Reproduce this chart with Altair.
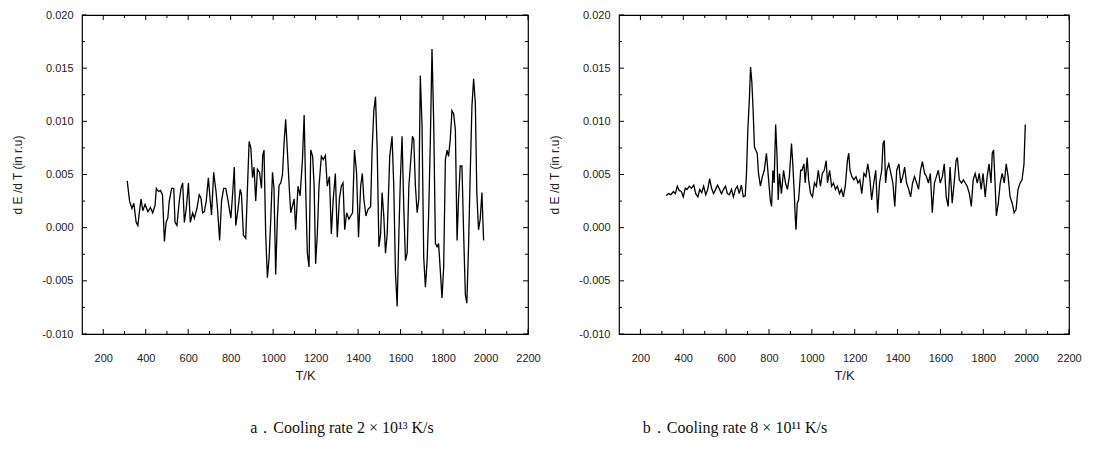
import altair as alt
import pandas as pd

# ---------------- data ----------------
T_a = [313, 324, 335, 344, 355, 363, 371, 378, 386, 397, 410, 422, 433, 444, 450, 460, 469, 479, 488, 496,
       504, 511, 522, 532, 538, 547, 558, 566, 574, 582, 591, 601, 610, 621, 629, 641, 652, 660, 668, 676,
       685, 695, 704, 710, 720, 731, 738, 748, 757, 767, 777, 788, 801, 810, 817, 824, 835, 845, 851, 860,
       871, 879, 887, 895, 903, 910, 918, 926, 936, 945, 951, 957, 965, 973, 981, 989, 997, 1004, 1012, 1020,
       1028, 1036, 1044, 1051, 1059, 1067, 1076, 1083, 1099, 1106, 1117, 1127, 1138, 1146, 1153, 1161, 1169, 1177, 1186, 1193,
       1200, 1208, 1216, 1227, 1236, 1246, 1255, 1265, 1274, 1283, 1293, 1302, 1312, 1321, 1329, 1337, 1346, 1357, 1365, 1374,
       1383, 1393, 1402, 1412, 1420, 1427, 1437, 1446, 1459, 1466, 1474, 1482, 1490, 1498, 1506, 1513, 1521, 1529, 1537, 1549,
       1560, 1568, 1576, 1584, 1592, 1599, 1607, 1615, 1623, 1631, 1639, 1646, 1656, 1662, 1670, 1678, 1686, 1693, 1701, 1709,
       1717, 1725, 1732, 1740, 1748, 1756, 1764, 1772, 1779, 1787, 1795, 1803, 1811, 1819, 1826, 1834, 1842, 1850, 1858, 1866,
       1873, 1881, 1889, 1897, 1905, 1912, 1920, 1928, 1936, 1944, 1952, 1959, 1967, 1975, 1983, 1991]
dEdT_a = [0.0044, 0.0025, 0.0018, 0.0023, 0.0005, 0.0002, 0.0016, 0.0027, 0.0016, 0.0022, 0.0015, 0.0019, 0.0014, 0.0021, 0.0037, 0.0034, 0.0035, 0.0031, -0.0013, 0.0005,
          0.0009, 0.0025, 0.0037, 0.0037, 0.0005, 0.0002, 0.0025, 0.0037, 0.0042, 0.0005, 0.0018, 0.0042, 0.0005, 0.0014, 0.0009, 0.0018, 0.0031, 0.0028, 0.0014, 0.0015,
          0.0025, 0.0047, 0.0025, 0.0012, 0.0052, 0.0034, 0.0018, -0.0012, 0.0025, 0.0037, 0.0037, 0.0025, 0.0009, 0.0034, 0.0057, 0.0002, 0.0018, 0.0036, 0.0031, -0.0007,
          -0.0010, 0.0037, 0.0081, 0.0075, 0.0047, 0.0057, 0.0025, 0.0055, 0.0052, 0.0037, 0.0068, 0.0073, -0.0007, -0.0047, -0.0028, 0.0009, 0.0052, 0.0037, -0.0044, 0.0009,
          0.0040, 0.0042, 0.0050, 0.0078, 0.0102, 0.0072, 0.0037, 0.0014, 0.0027, -0.0002, 0.0039, 0.0030, 0.0064, 0.0106, 0.0039, -0.0024, -0.0037, 0.0073, 0.0067, 0.0039,
          -0.0034, -0.0006, 0.0039, 0.0067, 0.0064, 0.0068, 0.0039, 0.0048, -0.0006, 0.0027, 0.0051, -0.0009, 0.0027, 0.0039, 0.0042, -0.0002, 0.0014, 0.0008, 0.0011, 0.0014,
          0.0073, 0.0051, -0.0009, 0.0039, 0.0051, 0.0027, 0.0011, 0.0017, 0.0020, 0.0073, 0.0110, 0.0123, 0.0073, -0.0018, -0.0006, 0.0033, 0.0011, -0.0024, -0.0006, 0.0067,
          0.0086, 0.0039, -0.0043, -0.0074, -0.0006, 0.0045, 0.0086, 0.0020, -0.0031, -0.0024, 0.0039, 0.0058, 0.0086, 0.0083, 0.0039, 0.0014, 0.0027, 0.0143, 0.0096, -0.0028,
          -0.0056, -0.0031, 0.0011, 0.0080, 0.0168, 0.0099, -0.0015, -0.0018, -0.0015, -0.0040, -0.0066, -0.0037, 0.0064, 0.0073, 0.0067, 0.0083, 0.0110, 0.0107, 0.0092, -0.0012,
          0.0027, 0.0058, 0.0058, -0.0006, -0.0063, -0.0071, -0.0018, 0.0051, 0.0114, 0.0140, 0.0117, 0.0033, -0.0002, 0.0008, 0.0033, -0.0012]

T_b = [320, 331, 342, 354, 363, 372, 381, 391, 400, 409, 418, 428, 438, 449, 458, 468, 477, 486, 495, 505,
       514, 523, 532, 541, 551, 560, 569, 578, 588, 597, 606, 615, 625, 634, 643, 652, 661, 671, 680, 689,
       695, 701, 708, 714, 720, 726, 732, 738, 745, 751, 760, 769, 778, 788, 797, 806, 812, 818, 824, 831,
       837, 843, 849, 858, 868, 877, 886, 895, 905, 911, 917, 923, 926, 932, 938, 948, 954, 963, 969, 978,
       985, 994, 1003, 1012, 1021, 1030, 1040, 1049, 1058, 1067, 1073, 1083, 1092, 1101, 1110, 1119, 1129, 1138, 1147, 1156,
       1166, 1172, 1178, 1187, 1196, 1206, 1215, 1224, 1233, 1243, 1252, 1261, 1270, 1279, 1289, 1298, 1307, 1316, 1326, 1332,
       1338, 1344, 1350, 1359, 1369, 1378, 1387, 1396, 1406, 1415, 1424, 1433, 1442, 1452, 1461, 1470, 1479, 1489, 1498, 1507,
       1516, 1526, 1535, 1544, 1553, 1562, 1572, 1581, 1590, 1599, 1609, 1618, 1627, 1636, 1645, 1655, 1664, 1673, 1679, 1688,
       1698, 1707, 1716, 1725, 1735, 1744, 1753, 1762, 1772, 1781, 1790, 1799, 1809, 1818, 1827, 1836, 1842, 1848, 1855, 1861,
       1870, 1879, 1888, 1898, 1907, 1916, 1925, 1935, 1944, 1953, 1962, 1972, 1981, 1990, 1996]
dEdT_b = [0.0030, 0.0032, 0.0031, 0.0034, 0.0032, 0.0039, 0.0035, 0.0034, 0.0029, 0.0037, 0.0036, 0.0039, 0.0037, 0.0040, 0.0032, 0.0029, 0.0036, 0.0033, 0.0039, 0.0031,
          0.0036, 0.0046, 0.0037, 0.0032, 0.0036, 0.0040, 0.0036, 0.0032, 0.0036, 0.0039, 0.0032, 0.0031, 0.0036, 0.0029, 0.0036, 0.0039, 0.0032, 0.0040, 0.0029, 0.0030,
          0.0051, 0.0091, 0.0119, 0.0151, 0.0137, 0.0110, 0.0076, 0.0073, 0.0070, 0.0051, 0.0039, 0.0048, 0.0054, 0.0070, 0.0048, 0.0026, 0.0020, 0.0054, 0.0042, 0.0097,
          0.0070, 0.0026, 0.0051, 0.0032, 0.0054, 0.0042, 0.0036, 0.0048, 0.0079, 0.0060, 0.0036, 0.0008, -0.0002, 0.0023, 0.0026, 0.0054, 0.0054, 0.0060, 0.0042, 0.0066,
          0.0045, 0.0032, 0.0029, 0.0042, 0.0039, 0.0054, 0.0039, 0.0051, 0.0054, 0.0063, 0.0042, 0.0054, 0.0039, 0.0042, 0.0036, 0.0039, 0.0032, 0.0036, 0.0029, 0.0039,
          0.0063, 0.0070, 0.0054, 0.0048, 0.0045, 0.0048, 0.0042, 0.0045, 0.0032, 0.0051, 0.0048, 0.0060, 0.0048, 0.0026, 0.0042, 0.0054, 0.0014, 0.0042, 0.0054, 0.0079,
          0.0082, 0.0042, 0.0054, 0.0060, 0.0051, 0.0042, 0.0020, 0.0054, 0.0060, 0.0042, 0.0048, 0.0057, 0.0042, 0.0036, 0.0029, 0.0042, 0.0048, 0.0042, 0.0036, 0.0054,
          0.0062, 0.0051, 0.0048, 0.0042, 0.0051, 0.0014, 0.0042, 0.0048, 0.0054, 0.0042, 0.0048, 0.0060, 0.0029, 0.0020, 0.0057, 0.0023, 0.0042, 0.0063, 0.0066, 0.0045,
          0.0042, 0.0045, 0.0042, 0.0039, 0.0032, 0.0020, 0.0045, 0.0051, 0.0042, 0.0051, 0.0036, 0.0051, 0.0029, 0.0048, 0.0060, 0.0042, 0.0070, 0.0073, 0.0042, 0.0011,
          0.0023, 0.0042, 0.0051, 0.0042, 0.0060, 0.0048, 0.0029, 0.0023, 0.0014, 0.0017, 0.0036, 0.0042, 0.0045, 0.0060, 0.0097]

x_major = [200, 400, 600, 800, 1000, 1200, 1400, 1600, 1800, 2000, 2200]
x_minor = [300, 500, 700, 900, 1100, 1300, 1500, 1700, 1900, 2100]
y_major = [-0.010, -0.005, 0.000, 0.005, 0.010, 0.015, 0.020]
y_minor = [-0.0075, -0.0025, 0.0025, 0.0075, 0.0125, 0.0175]

captions = ["a．Cooling rate 2 × 10¹³ K/s", "b．Cooling rate 8 × 10¹¹ K/s"]
caption_dx = [37, -109]

X_DOMAIN = [100, 2200]
Y_DOMAIN = [-0.010, 0.020]
FONT = "Liberation Sans"
H = 319
X_TITLE = "T/K"
Y_TITLE = "d E /d T  (in r.u)"

X_AXIS = alt.Axis(values=x_major, format="d", ticks=False, domain=False, grid=False,
                  labelPadding=18, labelFontSize=11, labelFont=FONT, labelColor="#222",
                  titleFont=FONT, titleFontSize=13, titleFontWeight="normal",
                  titleColor="#222", titlePadding=6, labelFlush=False)
Y_AXIS = alt.Axis(values=y_major, ticks=False, domain=False, grid=False,
                  labelExpr="replace(format(datum.value, '.3f'), '\u2212', '-')",
                  labelPadding=9, labelFontSize=11, labelFont=FONT, labelColor="#222",
                  titleFont=FONT, titleFontSize=12, titleFontWeight="normal",
                  titleColor="#222", titlePadding=17, labelFlush=False)


def panel(T, vals, W, caption, dx):
    xs = alt.Scale(domain=X_DOMAIN, nice=False, zero=False)
    ys = alt.Scale(domain=Y_DOMAIN, nice=False, zero=False)
    X = lambda: alt.X("T:Q", scale=xs, title=X_TITLE, axis=X_AXIS)
    Y = lambda: alt.Y("v:Q", scale=ys, title=Y_TITLE, axis=Y_AXIS)
    df = pd.DataFrame({"T": T, "v": vals})
    line = alt.Chart(df).mark_line(color="black", strokeWidth=1.3, clip=True).encode(x=X(), y=Y())
    xmaj = pd.DataFrame({"T": x_major})
    xmin = pd.DataFrame({"T": x_minor})
    ymaj = pd.DataFrame({"v": y_major})
    ymin = pd.DataFrame({"v": y_minor})
    layers = [line]
    for d, ln in [(xmaj, 5), (xmin, 3)]:
        layers.append(alt.Chart(d).mark_rule(color="black", strokeWidth=1).encode(
            x=X(), y=alt.value(H), y2=alt.value(H - ln)))
        layers.append(alt.Chart(d).mark_rule(color="black", strokeWidth=1).encode(
            x=X(), y=alt.value(0), y2=alt.value(ln)))
    for d, ln in [(ymaj, 5), (ymin, 3)]:
        layers.append(alt.Chart(d).mark_rule(color="black", strokeWidth=1).encode(
            y=Y(), x=alt.value(0), x2=alt.value(ln)))
        layers.append(alt.Chart(d).mark_rule(color="black", strokeWidth=1).encode(
            y=Y(), x=alt.value(W), x2=alt.value(W - ln)))
    return alt.layer(*layers).properties(
        width=W, height=H,
        title=alt.TitleParams(caption, orient="bottom", anchor="middle", frame="group",
                              dx=dx, offset=38, font="Liberation Serif", fontSize=16,
                              fontWeight="normal", color="#111"))


pa = panel(T_a, dEdT_a, 446, captions[0], caption_dx[0])
pb = panel(T_b, dEdT_b, 450, captions[1], caption_dx[1])

chart = alt.hconcat(pa, pb, spacing=7).configure_view(
    stroke="black", strokeWidth=1.2
).properties(padding={"left": 3, "top": 0, "right": 0, "bottom": 0}, background="white")

chart.save("out.html", embed_options={"renderer": "svg", "actions": False})
